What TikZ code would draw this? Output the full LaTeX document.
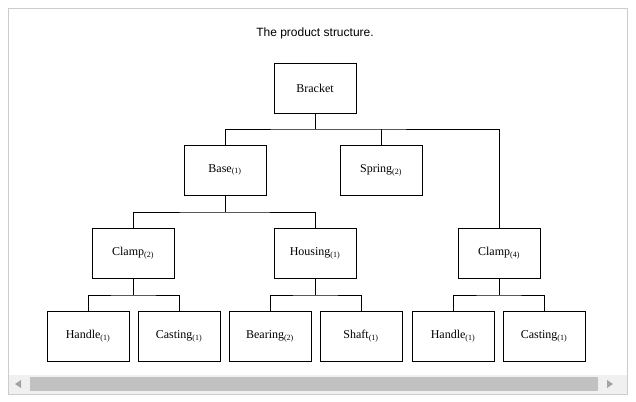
\documentclass[tikz,border=0pt]{standalone}
\usepackage{fontspec}
\setmainfont{Liberation Serif}
\newfontfamily\titlefont{Liberation Sans}
\usetikzlibrary{calc}
\usetikzlibrary{positioning}
\definecolor{framegray}{HTML}{CCCCCC}
\definecolor{trackgray}{HTML}{F0F0F0}
\definecolor{thumbgray}{HTML}{C1C1C1}
\definecolor{arrowgray}{HTML}{A3A3A3}
\tikzset{
  part/.style={draw,thick,minimum width=82pt,minimum height=50pt,inner sep=0pt,font=\fontsize{12}{14}\selectfont},
  link/.style={thick}
}
\begin{document}
\begin{tikzpicture}[x=1pt,y=-1pt]
			%page and frame
			\useasboundingbox (0,0) rectangle (636,401);
			\fill[white] (0,0) rectangle (636,401);
			\draw[framegray] (8.5,8.5) rectangle (627.5,394.5);
			%scroll bar
			\fill[trackgray] (9,375) rectangle (627,394);
			\fill[thumbgray] (30,377) rectangle (598,391);
			\fill[arrowgray] (15,384)--(21,380)--(21,388)--cycle;
			\fill[arrowgray] (613,384)--(607,380)--(607,388)--cycle;
			%title
			\node[font=\titlefont\fontsize{12}{14}\selectfont] (title) at (315,33) {The product structure.};
			%parts
			\node[part] (bracket) at (315,88) {Bracket};
			\node[part] (base) at (225,170) {Base\textsubscript{(1)}};
			\node[part] (spring) at (381,170) {Spring\textsubscript{(2)}};
			\node[part] (clampa) at (133,253) {Clamp\textsubscript{(2)}};
			\node[part] (housing) at (315,253) {Housing\textsubscript{(1)}};
			\node[part] (clampb) at (499,253) {Clamp\textsubscript{(4)}};
			\node[part] (handlea) at (88,336) {Handle\textsubscript{(1)}};
			\node[part] (castinga) at (179,336) {Casting\textsubscript{(1)}};
			\node[part] (bearing) at (270,336) {Bearing\textsubscript{(2)}};
			\node[part] (shaft) at (361,336) {Shaft\textsubscript{(1)}};
			\node[part] (handleb) at (453,336) {Handle\textsubscript{(1)}};
			\node[part] (castingb) at (544,336) {Casting\textsubscript{(1)}};
			%junctions
			\coordinate (jbracket) at (315,129);
			\coordinate (jbase) at (225,212);
			\coordinate (jclampa) at (133,295);
			\coordinate (jhousing) at (315,295);
			\coordinate (jclampb) at (499,295);
			%links
			\draw[link] (bracket.south)--(jbracket);
			\draw[link] (base.north) |- (jbracket) -| (clampb.north);
			\draw[link] (spring.north)--(spring.north |- jbracket);
			\draw[link] (base.south)--(jbase);
			\draw[link] (clampa.north) |- (jbase) -| (housing.north);
			\draw[link] (clampa.south)--(jclampa);
			\draw[link] (handlea.north) |- (jclampa) -| (castinga.north);
			\draw[link] (housing.south)--(jhousing);
			\draw[link] (bearing.north) |- (jhousing) -| (shaft.north);
			\draw[link] (clampb.south)--(jclampb);
			\draw[link] (handleb.north) |- (jclampb) -| (castingb.north);
		\end{tikzpicture}
\end{document}
